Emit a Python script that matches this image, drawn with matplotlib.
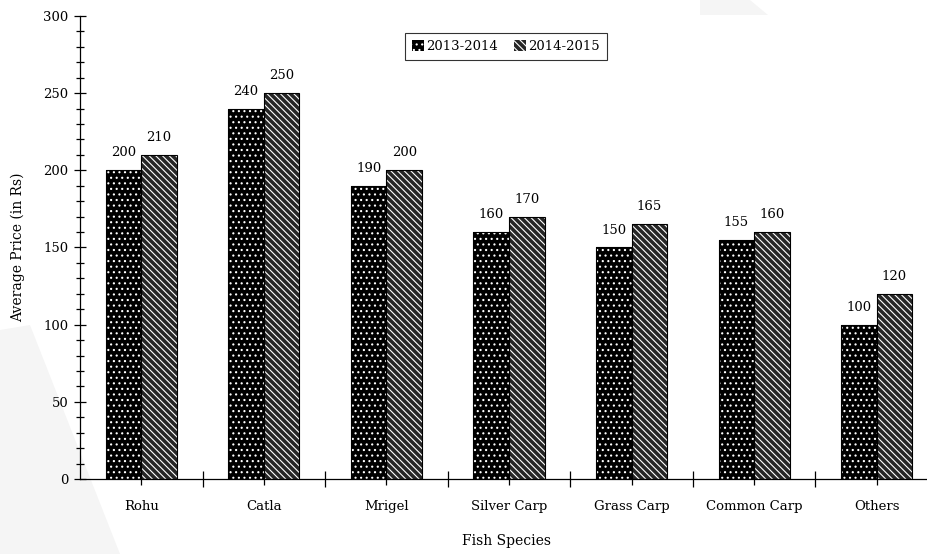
import numpy as np
import matplotlib
matplotlib.use("Agg")
import matplotlib.pyplot as plt
from matplotlib.patches import Polygon, Patch
from matplotlib.ticker import MultipleLocator, FixedLocator, NullFormatter

# Data
species = ["Rohu", "Catla", "Mrigel", "Silver Carp", "Grass Carp", "Common Carp", "Others"]
price_2013_14 = [200, 240, 190, 160, 150, 155, 100]
price_2014_15 = [210, 250, 200, 170, 165, 160, 120]
series_labels = ["2013-2014", "2014-2015"]

plt.rcParams["font.family"] = ["DejaVu Serif"]
plt.rcParams["font.size"] = 9.5
plt.rcParams["hatch.linewidth"] = 0.8

W, H = 927, 554
fig = plt.figure(figsize=(W / 100, H / 100), dpi=100)

# faint watermark shapes behind everything
def px(pts):
    return [(x / W, 1 - y / H) for x, y in pts]

fig.patches.append(Polygon(px([(0, 330), (30, 325), (120, 554), (0, 554)]),
                           closed=True, transform=fig.transFigure,
                           facecolor="#f5f5f5", edgecolor="none", zorder=-5))
fig.patches.append(Polygon(px([(700, 0), (750, 0), (768, 15), (700, 15)]),
                           closed=True, transform=fig.transFigure,
                           facecolor="#f5f5f5", edgecolor="none", zorder=-5))

# axes: left edge at x=80, bottom at y=479, 300 at y=16, right runs off the figure
ax = fig.add_axes([80 / W, 1 - 479 / H, (938 - 80) / W, (479 - 16) / H])
ax.set_facecolor("none")
ax.set_zorder(2)

x = np.arange(len(species))
bw = 0.29
dots = "..."
lines = "\\\\\\\\\\"

# first series: black with white dots
ax.bar(x - bw / 2, price_2013_14, bw, color="black", edgecolor="white",
       hatch=dots, linewidth=0, zorder=2)
ax.bar(x - bw / 2, price_2013_14, bw, fill=False, edgecolor="black",
       linewidth=0.8, zorder=3)
# second series: dark with white diagonal lines
ax.bar(x + bw / 2, price_2014_15, bw, color="#262626", edgecolor="white",
       hatch=lines, linewidth=0, zorder=2)
ax.bar(x + bw / 2, price_2014_15, bw, fill=False, edgecolor="black",
       linewidth=0.8, zorder=3)

# value labels
for i in range(len(species)):
    ax.text(x[i] - bw / 2, price_2013_14[i] + 9, str(price_2013_14[i]),
            ha="center", va="baseline")
    ax.text(x[i] + bw / 2, price_2014_15[i] + 9, str(price_2014_15[i]),
            ha="center", va="baseline")

ax.set_xlim(-0.5, len(species) - 0.5)
ax.set_ylim(0, 300)

for s in ["top", "right"]:
    ax.spines[s].set_visible(False)
ax.spines["left"].set_linewidth(0.9)
ax.spines["bottom"].set_linewidth(0.9)

# y ticks
ax.yaxis.set_major_locator(MultipleLocator(50))
ax.yaxis.set_minor_locator(MultipleLocator(10))
ax.tick_params(axis="y", which="major", direction="inout", length=8.6, width=0.9, pad=4)
ax.tick_params(axis="y", which="minor", direction="inout", length=5.8, width=0.9)

# x ticks: boundaries crossing the axis, small ticks at category centres
ax.xaxis.set_major_locator(FixedLocator(x + 0.5))
ax.xaxis.set_major_formatter(NullFormatter())
ax.xaxis.set_minor_locator(FixedLocator(x))
ax.set_xticklabels(species, minor=True)
ax.tick_params(axis="x", which="major", direction="inout", length=11, width=0.9)
ax.tick_params(axis="x", which="minor", direction="out", length=4, width=0.9, pad=11)

ax.set_ylabel("Average Price (in Rs)", fontsize=10)
ax.yaxis.set_label_coords(-(80 - 25) / (938 - 80), 0.5)
ax.set_xlabel("Fish Species", fontsize=10)
ax.xaxis.set_label_coords((507 - 80) / (938 - 80), -(534 - 479) / (479 - 16))

# legend
handles = [Patch(facecolor="black", edgecolor="white", hatch=dots, linewidth=0),
           Patch(facecolor="#262626", edgecolor="white", hatch=lines, linewidth=0)]
leg = fig.legend(handles, series_labels, loc="upper center",
                 bbox_to_anchor=(506 / W, 1 - 33 / H), ncol=2,
                 frameon=True, fancybox=False, edgecolor="black",
                 handlelength=0.9, handleheight=1.0, handletextpad=0.2,
                 columnspacing=1.2, borderpad=0.5, borderaxespad=0)
leg.get_frame().set_linewidth(0.8)

fig.savefig("out.png", dpi=100)
